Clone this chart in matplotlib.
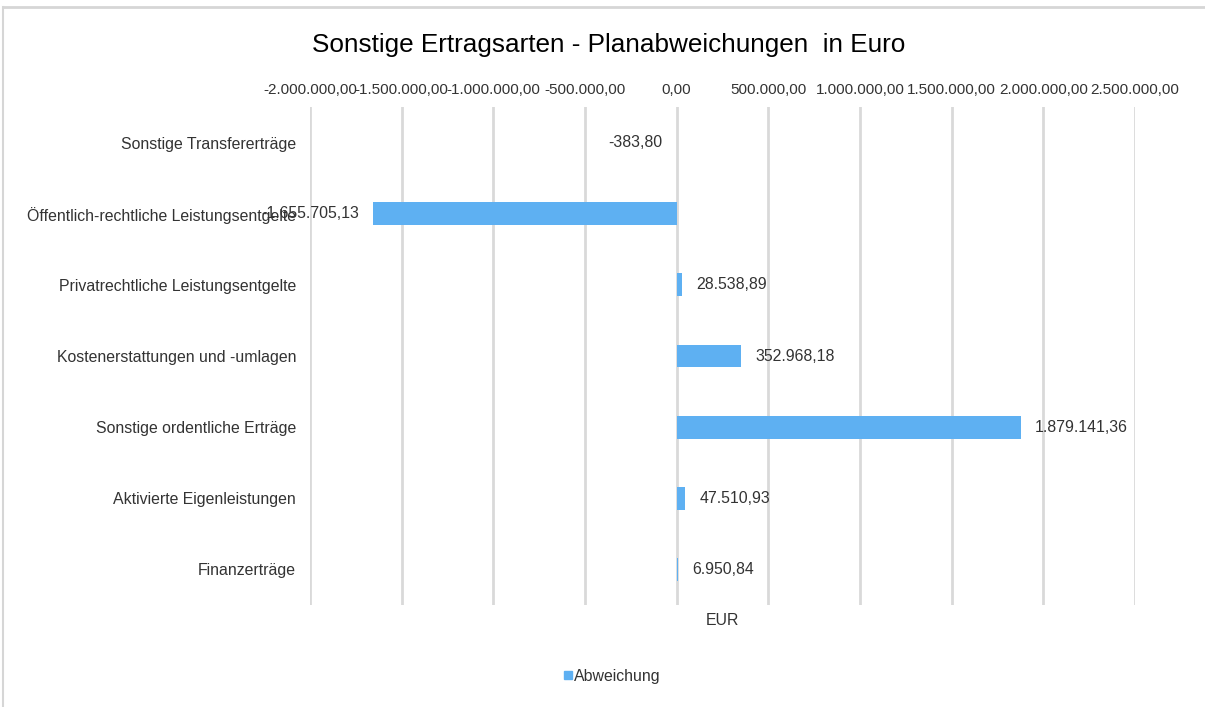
import matplotlib
matplotlib.use("Agg")
import matplotlib.pyplot as plt
from matplotlib.lines import Line2D
from matplotlib.ticker import FixedLocator

categories = [
    "Sonstige Transfererträge",
    "Öffentlich-rechtliche Leistungsentgelte",
    "Privatrechtliche Leistungsentgelte",
    "Kostenerstattungen und -umlagen",
    "Sonstige ordentliche Erträge",
    "Aktivierte Eigenleistungen",
    "Finanzerträge",
]
values = [-383.80, -1655705.13, 28538.89, 352968.18, 1879141.36, 47510.93, 6950.84]
tick_values = [-2000000, -1500000, -1000000, -500000, 0, 500000, 1000000, 1500000, 2000000, 2500000]
series_name = "Abweichung"
title = "Sonstige Ertragsarten - Planabweichungen  in Euro"
x_label = "EUR"


def de_fmt(v):
    s = f"{abs(v):,.2f}".replace(",", "X").replace(".", ",").replace("X", ".")
    return ("-" if v < 0 else "") + s


plt.rcParams["font.family"] = ["Liberation Sans", "DejaVu Sans"]
TXT = "#333333"
BAR = "#5EB0F2"
GRID = "#D9D9D9"
FS = 11.4

W, H = 1205, 707
fig = plt.figure(figsize=(W / 100, H / 100), dpi=100)
ax = fig.add_axes([310 / W, 1 - 605 / H, (1135 - 310) / W, (605 - 107) / H])

y = list(range(len(categories)))
ax.barh(y, values, height=0.32, color=BAR, zorder=3, label=series_name)
ax.set_xlim(tick_values[0], tick_values[-1])
ax.set_ylim(len(categories) - 0.5, -0.5)

ax.set_yticks(y)
ax.set_yticklabels(categories, fontsize=FS, color=TXT)
ax.tick_params(axis="y", length=0, pad=10)

ax.xaxis.set_major_locator(FixedLocator(tick_values))
ax.set_xticklabels([de_fmt(v) for v in tick_values], fontsize=11, color=TXT)
ax.xaxis.tick_top()
ax.tick_params(axis="x", length=0, pad=7, top=True, bottom=False)
ax.grid(axis="x", color=GRID, linewidth=2, zorder=0)
for sp in ax.spines.values():
    sp.set_visible(False)

ax.set_xlabel(x_label, fontsize=FS, color=TXT, labelpad=6)

span = tick_values[-1] - tick_values[0]
off = span / 825 * 14
for yi, v in zip(y, values):
    if v < 0:
        ax.text(v - off, yi, de_fmt(v), ha="right", va="center", fontsize=FS, color=TXT, zorder=4)
    else:
        ax.text(v + off, yi, de_fmt(v), ha="left", va="center", fontsize=FS, color=TXT, zorder=4)

fig.text(609 / W, 1 - 45 / H, title, ha="center", va="center", fontsize=18.8, color="#000000")

leg = fig.legend(handles=[Line2D([], [], marker="s", linestyle="", color=BAR, markersize=6)],
                 labels=[series_name], loc="center", bbox_to_anchor=(612 / W, 1 - 676 / H),
                 frameon=False, fontsize=FS, handlelength=0.6, handletextpad=0.1,
                 borderpad=0)
for t in leg.get_texts():
    t.set_color(TXT)

# outer frame lines
fig.add_artist(Line2D([3 / W, 1], [1 - 7 / H, 1 - 7 / H], transform=fig.transFigure,
                      color="#D6D6D6", linewidth=2))
fig.add_artist(Line2D([3 / W, 3 / W], [0, 1 - 7 / H], transform=fig.transFigure,
                      color="#D6D6D6", linewidth=1.5))

fig.savefig("out.png", dpi=100)
